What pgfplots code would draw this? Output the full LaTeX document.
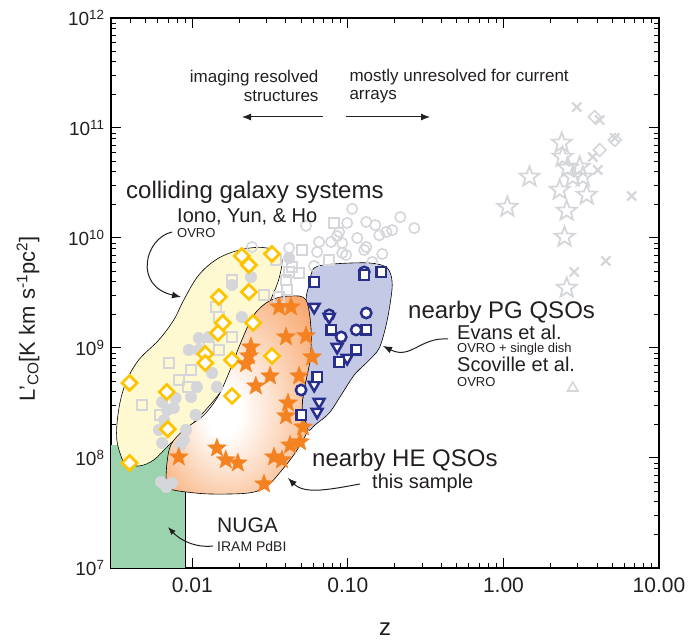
\documentclass[border=0pt]{standalone}
\usepackage{pgfplots}
\pgfplotsset{compat=1.18}
\usepackage{fontspec}
\setmainfont{Liberation Sans}
\usetikzlibrary{arrows.meta}
\definecolor{gold}{RGB}{255,196,0}
\definecolor{starorange}{RGB}{245,130,32}
\definecolor{navy}{RGB}{40,46,140}
\definecolor{grayp}{RGB}{212,214,218}
\definecolor{yellowfill}{RGB}{255,249,210}
\definecolor{bluefill}{RGB}{196,201,230}
\definecolor{greenfill}{RGB}{155,211,174}
\definecolor{orglow}{RGB}{248,170,114}
\definecolor{txt}{RGB}{35,31,32}
\pgfdeclareradialshading{orangeglow}{\pgfpoint{-6bp}{-5bp}}{color(0bp)=(white); color(6bp)=(white); color(34bp)=(orglow); color(50bp)=(orglow)}
\pgfdeclareplotmark{fstar}{%
 \pgfpathmoveto{\pgfpointpolar{90}{\pgfplotmarksize}}%
 \pgfpathlineto{\pgfpointpolar{126}{0.42\pgfplotmarksize}}%
 \pgfpathlineto{\pgfpointpolar{162}{\pgfplotmarksize}}%
 \pgfpathlineto{\pgfpointpolar{198}{0.42\pgfplotmarksize}}%
 \pgfpathlineto{\pgfpointpolar{234}{\pgfplotmarksize}}%
 \pgfpathlineto{\pgfpointpolar{270}{0.42\pgfplotmarksize}}%
 \pgfpathlineto{\pgfpointpolar{306}{\pgfplotmarksize}}%
 \pgfpathlineto{\pgfpointpolar{342}{0.42\pgfplotmarksize}}%
 \pgfpathlineto{\pgfpointpolar{18}{\pgfplotmarksize}}%
 \pgfpathlineto{\pgfpointpolar{54}{0.42\pgfplotmarksize}}%
 \pgfpathclose\pgfusepathqfillstroke}
\pgfdeclareplotmark{ostar}{%
 \pgfpathmoveto{\pgfpointpolar{90}{\pgfplotmarksize}}%
 \pgfpathlineto{\pgfpointpolar{126}{0.42\pgfplotmarksize}}%
 \pgfpathlineto{\pgfpointpolar{162}{\pgfplotmarksize}}%
 \pgfpathlineto{\pgfpointpolar{198}{0.42\pgfplotmarksize}}%
 \pgfpathlineto{\pgfpointpolar{234}{\pgfplotmarksize}}%
 \pgfpathlineto{\pgfpointpolar{270}{0.42\pgfplotmarksize}}%
 \pgfpathlineto{\pgfpointpolar{306}{\pgfplotmarksize}}%
 \pgfpathlineto{\pgfpointpolar{342}{0.42\pgfplotmarksize}}%
 \pgfpathlineto{\pgfpointpolar{18}{\pgfplotmarksize}}%
 \pgfpathlineto{\pgfpointpolar{54}{0.42\pgfplotmarksize}}%
 \pgfpathclose\pgfusepathqstroke}
\begin{document}
\begin{tikzpicture}
\begin{axis}[
  at={(0pt,0pt)}, anchor=south west,
  scale only axis, width=548pt, height=550pt,
  xmode=log, ymode=log,
  xmin=0.003, xmax=10, ymin=1e7, ymax=1e12,
  xtick={0.01,0.1,1,10},
  xticklabels={0.01,0.10,1.00,10.00},
  minor xtick={0.003,0.004,0.005,0.006,0.007,0.008,0.009,0.02,0.03,0.04,0.05,0.06,0.07,0.08,0.09,0.2,0.3,0.4,0.5,0.6,0.7,0.8,0.9,2,3,4,5,6,7,8,9},
  ytick={1e7,1e8,1e9,1e10,1e11,1e12},
  yticklabels={10\textsuperscript{7},10\textsuperscript{8},10\textsuperscript{9},10\textsuperscript{10},10\textsuperscript{11},10\textsuperscript{12}},
  minor ytick={2e7,3e7,4e7,5e7,6e7,7e7,8e7,9e7,2e8,3e8,4e8,5e8,6e8,7e8,8e8,9e8,2e9,3e9,4e9,5e9,6e9,7e9,8e9,9e9,2e10,3e10,4e10,5e10,6e10,7e10,8e10,9e10,2e11,3e11,4e11,5e11,6e11,7e11,8e11,9e11},
  tick align=inside,
  major tick length=10pt, minor tick length=5pt,
  every tick/.style={black, line width=1pt},
  axis line style={line width=1.3pt},
  xticklabel style={font=\fontsize{21}{24}\selectfont, text=txt, yshift=-6pt},
  yticklabel style={font=\fontsize{19}{22}\selectfont, text=txt, xshift=-3pt},
  xlabel={z},
  ylabel={L'\textsubscript{CO}[K km s\textsuperscript{-1}pc\textsuperscript{2}]},
  every axis x label/.style={at={(axis description cs:0.5,0)}, anchor=center, inner sep=0pt, yshift=-61pt, font=\fontsize{24}{28}\selectfont, text=txt},
  every axis y label/.style={at={(axis description cs:-0.1515,0.4527)}, anchor=center, rotate=90, font=\fontsize{22}{26}\selectfont, text=txt},
]
% NUGA region
\addplot[draw=none, fill=greenfill] coordinates {(0.003,1e7) (0.009,1e7) (0.009,1.31e8) (0.003,1.31e8)} -- cycle;
\addplot[black, line width=0.7pt] coordinates {(0.009,1e7) (0.009,1.31e8)};
% colliding galaxies region
\addplot[draw=black, line width=0.6pt, fill=yellowfill, smooth, tension=0.6] coordinates {
(0.00362,9.0e7) (0.00327,1.46e8) (0.00336,2.73e8) (0.00373,4.81e8) (0.00452,7.78e8)
(0.00608,1.18e9) (0.0076,1.80e9) (0.00881,2.73e9) (0.01101,4.61e9) (0.01482,6.58e9)
(0.02147,7.94e9) (0.0302,8.11e9) (0.0372,6.86e9) (0.0366,4.61e9) (0.0325,2.91e9)
(0.02761,1.80e9) (0.02244,1.06e9) (0.01906,7.0e8) (0.01549,4.15e8) (0.01186,2.62e8)
(0.00881,1.72e8) (0.00706,1.31e8) (0.00565,9.6e7) (0.00452,8.45e7) (0.00362,9.0e7)} -- cycle;
% PG QSO region
\addplot[draw=black, line width=0.6pt, fill=bluefill, smooth, tension=0.5] coordinates {
(0.0564,3.74e9) (0.0607,5.34e9) (0.0817,5.81e9) (0.1371,5.93e9) (0.1791,5.34e9)
(0.1928,3.74e9) (0.1791,1.80e9) (0.1592,1.0e9) (0.1331,7.46e8) (0.1099,5.69e8)
(0.0906,3.74e8) (0.0758,2.56e8) (0.0615,2.0e8) (0.0555,1.80e8) (0.0508,2.73e8)
(0.0523,4.15e8) (0.0564,7.78e8) (0.0564,1.46e9) (0.0538,2.73e9) (0.0564,3.74e9)} -- cycle;
% HE QSO region
\addplot[draw=black, line width=0.6pt, shading=orangeglow, smooth, tension=0.55] coordinates {
(0.00675,5.34e7) (0.00685,8.63e7) (0.00727,1.31e8) (0.00881,1.80e8) (0.01186,2.46e8)
(0.01482,3.74e8) (0.0177,6.58e8) (0.02054,1.13e9) (0.02489,2.0e9) (0.03206,2.73e9)
(0.0431,2.97e9) (0.0538,2.73e9) (0.058,1.46e9) (0.0571,7.78e8) (0.0523,4.15e8)
(0.0508,2.73e8) (0.0547,1.80e8) (0.0471,1.18e8) (0.0377,7.78e7) (0.0302,5.56e7)
(0.02312,4.81e7) (0.01277,4.71e7) (0.00818,5.01e7) (0.00675,5.34e7)} -- cycle;
% gray comparison samples
\addplot[only marks, mark=o, mark size=5.2pt, grayp, mark options={line width=1.6pt}] coordinates {
(0.1066,1.84e10) (0.2173,1.55e10) (0.2673,1.23e10) (0.0538,1.29e10) (0.0989,1.37e10)
(0.1312,1.40e10) (0.15,1.31e10) (0.1766,1.135e10) (0.1928,1.18e10) (0.1592,1.06e10)
(0.1148,1.0e10) (0.0853,1.04e10) (0.078,9.2e9) (0.0919,9.0e9) (0.0653,9.2e9)
(0.1312,8.28e9) (0.1274,7.78e9) (0.0975,7.0e9) (0.1663,7.16e9) (0.0634,7.46e9)
(0.1435,6.05e9) (0.0607,5.56e9) (0.02417,8.28e9) (0.0419,8.11e9) (0.0879,1.135e10)
(0.0919,7.31e9)};
\addplot[only marks, mark=square, mark size=5pt, grayp, mark options={line width=1.6pt}] coordinates {
(0.0817,1.37e10) (0.0508,7.78e9) (0.0758,6.31e9) (0.0419,4.91e9) (0.0486,4.81e9)
(0.018,4.15e9) (0.0289,3.03e9) (0.0361,2.91e9) (0.0406,3.37e9) (0.0345,6.31e9)
(0.0438,5.45e9) (0.04,4.15e9) (0.0148,1.91e9) (0.0142,2.36e9) (0.00706,7.31e8)
(0.00978,6.31e8) (0.00818,5.12e8) (0.00473,3.03e8) (0.00618,2.46e8) (0.00936,4.42e8)
(0.01277,1.02e9) (0.018,1.26e9) (0.0148,9.6e8)};
\addplot[only marks, mark=*, mark size=5.8pt, grayp] coordinates {
(0.018,3.74e9) (0.0238,4.42e9) (0.0208,1.91e9) (0.011,9.6e8) (0.0095,9.6e8)
(0.011,1.23e9) (0.0128,1.26e9) (0.0119,7.31e8) (0.0134,5.93e8) (0.0144,4.42e8)
(0.0107,4.42e8) (0.0098,3.59e8) (0.0078,3.51e8) (0.0064,3.23e8) (0.0069,2.73e8)
(0.0076,2.85e8) (0.0066,2.21e8) (0.0061,1.80e8) (0.0064,1.37e8) (0.0091,1.80e8)
(0.0105,2.46e8) (0.0088,1.46e8) (0.0063,6.05e7) (0.0074,5.93e7) (0.0068,5.45e7)
(0.0084,1.31e8) (0.0419,6.58e9)};
\addplot[only marks, mark=x, mark size=6.5pt, grayp, mark options={line width=2.2pt}] coordinates {
(2.96,1.55e11) (4.16,1.18e11) (5.2,8.11e10) (3.75,5.45e10) (4.04,4.15e10)
(6.68,2.41e10) (4.55,6.18e9) (2.85,4.91e9)};
\addplot[only marks, mark=ostar, mark size=10.5pt, grayp, mark options={line width=1.8pt}] coordinates {
(2.37,7.31e10) (2.40,5.45e10) (2.59,4.33e10) (3.09,4.42e10) (2.30,2.73e10)
(3.43,2.46e10) (1.47,3.59e10) (1.06,1.91e10) (2.55,1.76e10) (2.47,1.02e10)
(2.55,3.51e9) (3.24,3.59e10) (2.79,3.59e10)};
\addplot[only marks, mark=square, mark size=4.5pt, grayp, mark options={rotate=45, line width=1.6pt}] coordinates {
(3.86,1.26e11) (5.2,7.78e10) (4.16,6.31e10)};
\addplot[only marks, mark=triangle, mark size=6pt, grayp, mark options={line width=1.6pt}] coordinates {
(2.79,4.33e8)};
% colliding galaxies (Iono, Yun & Ho)
\addplot[only marks, mark=square*, mark size=5.3pt, gold, mark options={rotate=45, fill=white, draw=gold, line width=2.7pt}] coordinates {
(0.0208,6.86e9) (0.0325,7.16e9) (0.0231,5.68e9) (0.0148,2.91e9) (0.0231,3.23e9)
(0.0157,1.69e9) (0.0246,1.69e9) (0.0146,1.37e9) (0.0121,8.82e8) (0.0121,7.31e8)
(0.018,7.78e8) (0.0325,8.46e8) (0.00395,4.81e8) (0.00685,3.98e8) (0.018,3.66e8)
(0.00695,1.83e8) (0.00395,9.01e7)};
% nearby HE QSOs (this sample)
\addplot[only marks, mark=fstar, mark size=10pt, starorange, mark options={fill=starorange, draw=starorange, line width=0.3pt}] coordinates {
(0.0361,2.36e9) (0.0431,2.36e9) (0.04,1.26e9) (0.0538,1.29e9) (0.0238,1.02e9)
(0.0231,8.46e8) (0.0221,7.16e8) (0.0589,8.28e8) (0.0316,5.56e8) (0.0486,5.56e8)
(0.0256,4.51e8) (0.0412,3.16e8) (0.04,2.41e8) (0.0515,1.91e8) (0.00818,1.02e8)
(0.0144,1.23e8) (0.0164,9.6e7) (0.0196,9.0e7) (0.0335,1.02e8) (0.0377,9.6e7)
(0.0425,1.31e8) (0.0493,1.40e8) (0.0289,5.8e7)};
% nearby PG QSOs
\addplot[only marks, mark=*, mark size=5.2pt, navy, mark options={fill=white, draw=navy, line width=2.5pt}] coordinates {
(0.1274,4.91e9) (0.0758,2.0e9) (0.1312,2.08e9) (0.113,1.46e9) (0.0906,1.26e9) (0.05,4.15e8)};
\addplot[only marks, mark=triangle*, mark size=6.3pt, navy, mark options={rotate=180, fill=white, draw=navy, line width=2.5pt}] coordinates {
(0.0607,2.36e9) (0.0758,1.91e9) (0.0853,1.02e9) (0.0989,8.1e8) (0.0607,4.61e8)
(0.0653,3.23e8) (0.0634,2.62e8)};
\addplot[only marks, mark=square*, mark size=4.8pt, navy, mark options={fill=white, draw=navy, line width=2.5pt}] coordinates {
(0.0607,3.98e9) (0.1274,4.61e9) (0.1641,4.91e9) (0.078,1.46e9) (0.1312,1.46e9)
(0.113,9.6e8) (0.0879,7.46e8) (0.0634,5.45e8) (0.05,2.46e8)};
\end{axis}
% annotations (pt, origin at lower-left corner of the axis box)
\begin{scope}[text=txt]
\node[anchor=east, align=right, font=\fontsize{17}{18.5}\selectfont] at (211pt,482pt) {imaging resolved\\structures};
\node[anchor=west, align=left, font=\fontsize{17}{18.5}\selectfont] at (235pt,482pt) {mostly unresolved for current\\arrays};
\draw[txt, line width=1pt, -{Latex[length=9pt,width=7pt]}] (212pt,451pt) -- (131pt,451pt);
\draw[txt, line width=1pt, -{Latex[length=9pt,width=7pt]}] (235pt,451pt) -- (319pt,451pt);
\node[anchor=west, font=\fontsize{24}{28}\selectfont, inner sep=0pt] at (15pt,376pt) {colliding galaxy systems};
\node[anchor=west, font=\fontsize{20}{24}\selectfont, inner sep=0pt] at (66pt,351pt) {Iono, Yun, \& Ho};
\node[anchor=west, font=\fontsize{13}{15}\selectfont, inner sep=0pt] at (66pt,335pt) {OVRO};
\draw[txt, line width=1pt, -{Latex[length=9pt,width=7pt]}] (61pt,336pt) .. controls (34pt,330pt) and (22pt,282pt) .. (70pt,271pt);
\node[anchor=west, font=\fontsize{24}{28}\selectfont, inner sep=0pt] at (297pt,256pt) {nearby PG QSOs};
\node[anchor=west, font=\fontsize{20}{24}\selectfont, inner sep=0pt] at (346pt,236pt) {Evans et al.};
\node[anchor=west, font=\fontsize{13}{15}\selectfont, inner sep=0pt] at (346pt,219pt) {OVRO + single dish};
\node[anchor=west, font=\fontsize{20}{24}\selectfont, inner sep=0pt] at (346pt,204pt) {Scoville et al.};
\node[anchor=west, font=\fontsize{13}{15}\selectfont, inner sep=0pt] at (346pt,186pt) {OVRO};
\draw[txt, line width=1pt, -{Latex[length=9pt,width=7pt]}] (337pt,229pt) .. controls (309pt,231pt) and (300pt,208pt) .. (272pt,222pt);
\node[anchor=west, font=\fontsize{24}{28}\selectfont, inner sep=0pt] at (201pt,108pt) {nearby HE QSOs};
\node[anchor=west, font=\fontsize{20}{24}\selectfont, inner sep=0pt] at (261pt,85pt) {this sample};
\draw[txt, line width=1pt, -{Latex[length=9pt,width=7pt]}] (249pt,84pt) .. controls (221pt,79pt) and (194pt,73pt) .. (177pt,90pt);
\node[anchor=west, font=\fontsize{21}{24}\selectfont, inner sep=0pt] at (106pt,43pt) {NUGA};
\node[anchor=west, font=\fontsize{14}{16}\selectfont, inner sep=0pt] at (106pt,22pt) {IRAM PdBI};
\draw[txt, line width=1pt, -{Latex[length=8pt,width=6pt]}] (102pt,22pt) .. controls (84pt,20pt) and (69pt,28pt) .. (57pt,41pt);
\end{scope}
\pgfresetboundingbox
\path (-111pt,-76pt) rectangle (579pt,568pt);
\end{tikzpicture}
\end{document}
